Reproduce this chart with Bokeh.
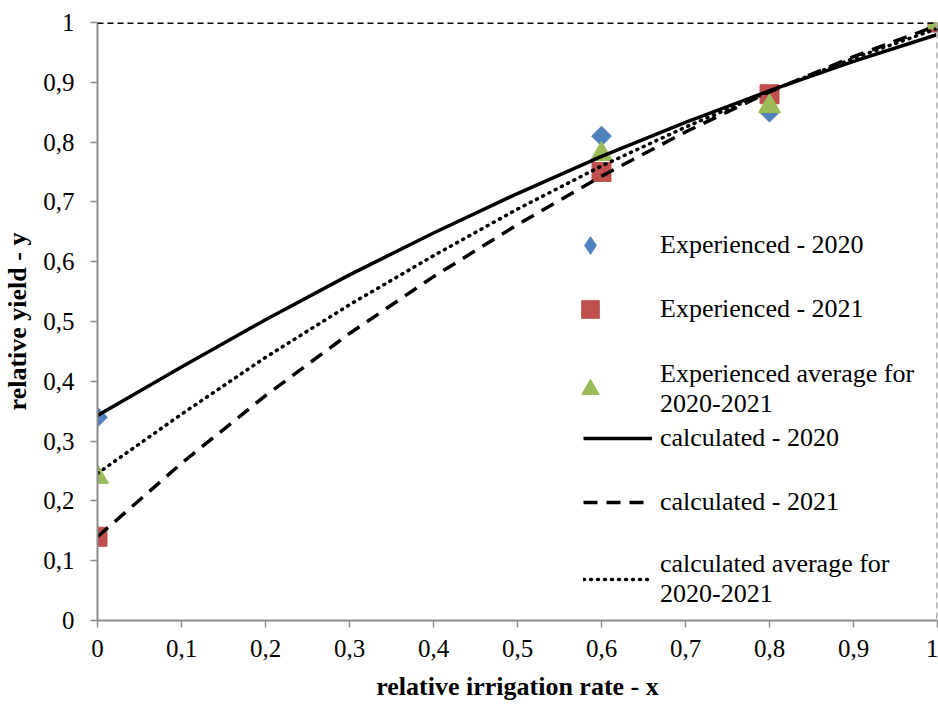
from bokeh.plotting import figure
from bokeh.models import (Range1d, FixedTicker, CustomJSTickFormatter, Span,
                          Legend, LegendItem)
from bokeh.embed import file_html
from bokeh.resources import INLINE
import math

# ---- data ----
x_obs = [0.0, 0.6, 0.8, 1.0]
y_exp_2020 = [0.34, 0.81, 0.85, 1.0]
y_exp_2021 = [0.14, 0.75, 0.88, 1.0]
y_exp_avg = [0.24, 0.78, 0.86, 1.0]

x_calc = [0.0, 0.1, 0.2, 0.3, 0.4, 0.5, 0.6, 0.7, 0.8, 0.9, 1.0]
y_calc_2020 = [0.343, 0.424, 0.503, 0.578, 0.648, 0.714, 0.776, 0.833, 0.886, 0.935, 0.98]
y_calc_2021 = [0.14, 0.263, 0.376, 0.48, 0.575, 0.662, 0.743, 0.817, 0.884, 0.943, 0.995]
y_calc_avg = [0.246, 0.345, 0.44, 0.528, 0.61, 0.688, 0.76, 0.825, 0.885, 0.94, 0.99]

ticks = [0.0, 0.1, 0.2, 0.3, 0.4, 0.5, 0.6, 0.7, 0.8, 0.9, 1.0]

labels = ["Experienced - 2020", "Experienced - 2021",
          "Experienced average for\n2020-2021",
          "calculated - 2020", "calculated - 2021",
          "calculated average for\n2020-2021"]

FONT = "Liberation Serif"

p = figure(width=938, height=704, output_backend="svg", toolbar_location=None,
           x_range=Range1d(0, 1), y_range=Range1d(0, 1),
           min_border_left=97, min_border_right=1, min_border_top=22,
           min_border_bottom=84)
p.background_fill_color = "white"
p.border_fill_color = "white"
p.outline_line_color = None
p.xgrid.visible = False
p.ygrid.visible = False

fmt = CustomJSTickFormatter(code="return (Math.round(tick*10)/10).toString().replace('.', ',');")
for ax in (p.xaxis[0], p.yaxis[0]):
    ax.ticker = FixedTicker(ticks=ticks)
    ax.formatter = fmt
    ax.axis_line_color = "#8c8c8c"
    ax.axis_line_width = 2
    ax.major_tick_line_color = "#8c8c8c"
    ax.major_tick_line_width = 1.5
    ax.major_tick_in = 0
    ax.major_tick_out = 7
    ax.minor_tick_line_color = None
    ax.major_label_text_font = FONT
    ax.major_label_text_font_size = "25px"
    ax.major_label_text_color = "black"
    ax.axis_label_text_font = FONT
    ax.axis_label_text_font_size = "26px"
    ax.axis_label_text_font_style = "bold"
    ax.axis_label_text_color = "black"

p.xaxis.axis_label = "relative irrigation rate - x"
p.yaxis.axis_label = "relative yield - y"
p.xaxis.major_label_standoff = 12
p.yaxis.major_label_standoff = 16
p.xaxis.axis_label_standoff = 12
p.yaxis.axis_label_standoff = 8

# frame borders: dashed top and right
p.add_layout(Span(location=1, dimension="width", line_color="black",
                  line_width=3, line_dash="6 4"))
p.add_layout(Span(location=1, dimension="height", line_color="#b0b0b0",
                  line_width=3, line_dash="6 4"))

r1 = p.scatter(x_obs, y_exp_2020, marker="square", size=14, angle=math.pi / 4,
               fill_color="#4f81bd", line_color="#4f81bd")
r2 = p.scatter(x_obs, y_exp_2021, marker="square", size=19,
               fill_color="#c0504d", line_color="#c0504d")
r3 = p.scatter(x_obs, y_exp_avg, marker="triangle", size=22,
               fill_color="#9bbb59", line_color="#9bbb59")
# legend-only glyph for the diamond (legend glyphs are drawn unrotated)
r1_leg = p.scatter(x_obs, y_exp_2020, marker="diamond", size=22,
                   fill_color="#4f81bd", line_color="#4f81bd", visible=False)

l1 = p.line(x_calc, y_calc_2020, line_color="black", line_width=3.5)
l2 = p.line(x_calc, y_calc_2021, line_color="black", line_width=3.5,
            line_dash="14 9")
l3 = p.line(x_calc, y_calc_avg, line_color="black", line_width=3.5,
            line_dash="1 6", line_cap="round")


def style(leg):
    leg.background_fill_alpha = 0
    leg.border_line_color = None
    leg.padding = 0
    leg.margin = 0
    leg.label_text_font = FONT
    leg.label_text_font_size = "26px"
    leg.label_text_color = "black"
    leg.label_text_line_height = 1.12
    leg.label_height = 30
    leg.inactive_fill_alpha = 0


def marker_legend(items, loc):
    leg = Legend(items=items, location=loc)
    style(leg)
    leg.glyph_width = 44
    leg.glyph_height = 44
    leg.spacing = 20
    leg.label_standoff = 48
    return leg


leg_a = marker_legend([LegendItem(label=labels[0], renderers=[r1_leg]),
                       LegendItem(label=labels[1], renderers=[r2])], (471, 289))
leg_c = marker_legend([LegendItem(label=labels[2], renderers=[r3])], (471, 201))

leg_b = Legend(items=[LegendItem(label=labels[3], renderers=[l1]),
                      LegendItem(label=labels[4], renderers=[l2]),
                      LegendItem(label=labels[5], renderers=[l3])],
               location=(486, 11))
style(leg_b)
leg_b.glyph_height = 34
leg_b.spacing = 30
leg_b.glyph_width = 69
leg_b.label_standoff = 8

p.add_layout(leg_a, "center")
p.add_layout(leg_c, "center")
p.add_layout(leg_b, "center")

open("out.html", "w").write(file_html(p, INLINE))
